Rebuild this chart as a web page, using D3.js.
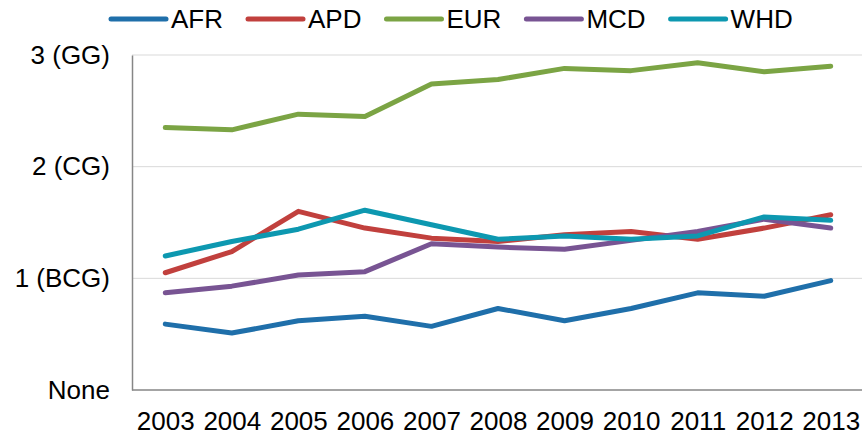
<!DOCTYPE html>
<html>
<head>
<meta charset="utf-8">
<script src="https://cdn.jsdelivr.net/npm/d3@7"></script>
<style>
  body { margin: 0; background: #fff; }
  svg { display: block; font-family: "Liberation Sans", Arial, sans-serif; }
</style>
</head>
<body>
<div id="chart"></div>
<script>
const years = ['2003', '2004', '2005', '2006', '2007', '2008', '2009', '2010', '2011', '2012', '2013'];
const regions = ['AFR', 'APD', 'EUR', 'MCD', 'WHD'];
const colors = ['#1f6faa', '#c1403d', '#7ba444', '#785493', '#0d98b0'];
const afr = [0.59, 0.51, 0.62, 0.66, 0.57, 0.73, 0.62, 0.73, 0.87, 0.84, 0.98];
const apd = [1.05, 1.24, 1.60, 1.45, 1.36, 1.33, 1.39, 1.42, 1.35, 1.45, 1.57];
const eur = [2.35, 2.33, 2.47, 2.45, 2.74, 2.78, 2.88, 2.86, 2.93, 2.85, 2.90];
const mcd = [0.87, 0.93, 1.03, 1.06, 1.31, 1.28, 1.26, 1.34, 1.42, 1.53, 1.45];
const whd = [1.20, 1.33, 1.44, 1.61, 1.48, 1.35, 1.38, 1.35, 1.38, 1.55, 1.52];
const yTicks = [0, 1, 2, 3];
const yLabels = ['None', '1 (BCG)', '2 (CG)', '3 (GG)'];

const series = [afr, apd, eur, mcd, whd];
const W = 862, H = 437;
const m = { left: 132, right: 864, top: 55, bottom: 390 };

const svg = d3.select('#chart').append('svg')
  .attr('width', W).attr('height', H);

const x = d3.scalePoint().domain(years).range([m.left, m.right]).padding(0.5);
const y = d3.scaleLinear().domain([0, 3]).range([m.bottom, m.top]);

// Gridlines
svg.append('g').selectAll('line')
  .data(yTicks.filter(t => t > 0)).join('line')
  .attr('x1', m.left).attr('x2', W)
  .attr('y1', d => y(d)).attr('y2', d => y(d))
  .attr('stroke', '#d9d9d9').attr('stroke-width', 1);

// Y axis
const yAxis = svg.append('g')
  .attr('transform', `translate(${m.left},0)`)
  .call(d3.axisLeft(y).tickValues(yTicks).tickSize(0).tickPadding(22)
    .tickFormat((d, i) => yLabels[i]));
yAxis.select('.domain').attr('stroke', '#868686').attr('stroke-width', 1.5);
yAxis.selectAll('text').attr('font-size', 26).attr('fill', '#000')
  .attr('font-family', '"Liberation Sans", Arial, sans-serif');

// X axis
const xAxis = svg.append('g')
  .attr('transform', `translate(0,${m.bottom})`)
  .call(d3.axisBottom(x).tickSize(0).tickPadding(22));
xAxis.select('.domain').attr('d', `M${m.left},0H${W}`)
  .attr('stroke', '#868686').attr('stroke-width', 1.5);
xAxis.selectAll('text').attr('font-size', 26).attr('fill', '#000')
  .attr('font-family', '"Liberation Sans", Arial, sans-serif');

// Lines
const line = d3.line().x((d, i) => x(years[i])).y(d => y(d));
svg.append('g').selectAll('path')
  .data(series).join('path')
  .attr('d', line)
  .attr('fill', 'none')
  .attr('stroke', (d, i) => colors[i])
  .attr('stroke-width', 5)
  .attr('stroke-linecap', 'round')
  .attr('stroke-linejoin', 'round');

// Legend
const legend = svg.append('g');
let lx = 111;
regions.forEach((r, i) => {
  legend.append('line')
    .attr('x1', lx).attr('x2', lx + 55)
    .attr('y1', 19).attr('y2', 19)
    .attr('stroke', colors[i]).attr('stroke-width', 5)
    .attr('stroke-linecap', 'round');
  const t = legend.append('text')
    .attr('x', lx + 60).attr('y', 27.5)
    .attr('font-size', 26).attr('fill', '#000')
    .text(r);
  lx += 60 + t.node().getComputedTextLength() + 25;
});
</script>
</body>
</html>
